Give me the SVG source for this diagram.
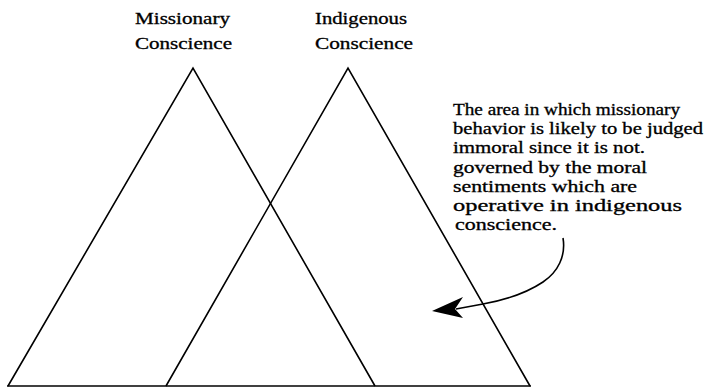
<svg xmlns="http://www.w3.org/2000/svg" width="707" height="388" viewBox="0 0 707 388">
<defs>
<style>
.t{font-family:"Liberation Serif","Times New Roman",serif;font-size:16px;fill:#000;stroke:#000;stroke-width:0.3}
.edge{fill:none;stroke:#000;stroke-width:1.6;stroke-linejoin:miter}
</style>
</defs>
<rect width="707" height="388" fill="#fff"/>
<g id="missionary">
<polyline class="edge" points="8,386 193,68 375,386"/>
<text class="t" x="135" y="24" textLength="95" lengthAdjust="spacingAndGlyphs">Missionary</text>
<text class="t" x="135" y="49" textLength="97" lengthAdjust="spacingAndGlyphs">Conscience</text>
</g>
<g id="indigenous">
<polyline class="edge" points="166,386 348,68 530,386"/>
<text class="t" x="315" y="24" textLength="92" lengthAdjust="spacingAndGlyphs">Indigenous</text>
<text class="t" x="315" y="49" textLength="98" lengthAdjust="spacingAndGlyphs">Conscience</text>
</g>
<g id="baseline">
<line class="edge" x1="7" y1="386" x2="531" y2="386"/>
</g>
<g id="note">
<text class="t" x="453" y="115" textLength="227" lengthAdjust="spacingAndGlyphs">The area in which missionary</text>
<text class="t" x="453" y="134" textLength="250" lengthAdjust="spacingAndGlyphs">behavior is likely to be judged</text>
<text class="t" x="453" y="153" textLength="192" lengthAdjust="spacingAndGlyphs">immoral since it is not.</text>
<text class="t" x="453" y="173" textLength="194" lengthAdjust="spacingAndGlyphs">governed by the moral</text>
<text class="t" x="453" y="192" textLength="184" lengthAdjust="spacingAndGlyphs">sentiments which are</text>
<text class="t" x="453" y="211" textLength="229" lengthAdjust="spacingAndGlyphs">operative in indigenous</text>
<text class="t" x="455" y="230" textLength="102" lengthAdjust="spacingAndGlyphs">conscience.</text>
</g>
<g id="connectors">
<path class="edge" d="M563,238 C566,256 558,272 543,282 C528,292 505,300 483,304 L456,309"/>
<polygon points="432,311 463,297 455,309 463,318" fill="#000"/>
</g>
</svg>
